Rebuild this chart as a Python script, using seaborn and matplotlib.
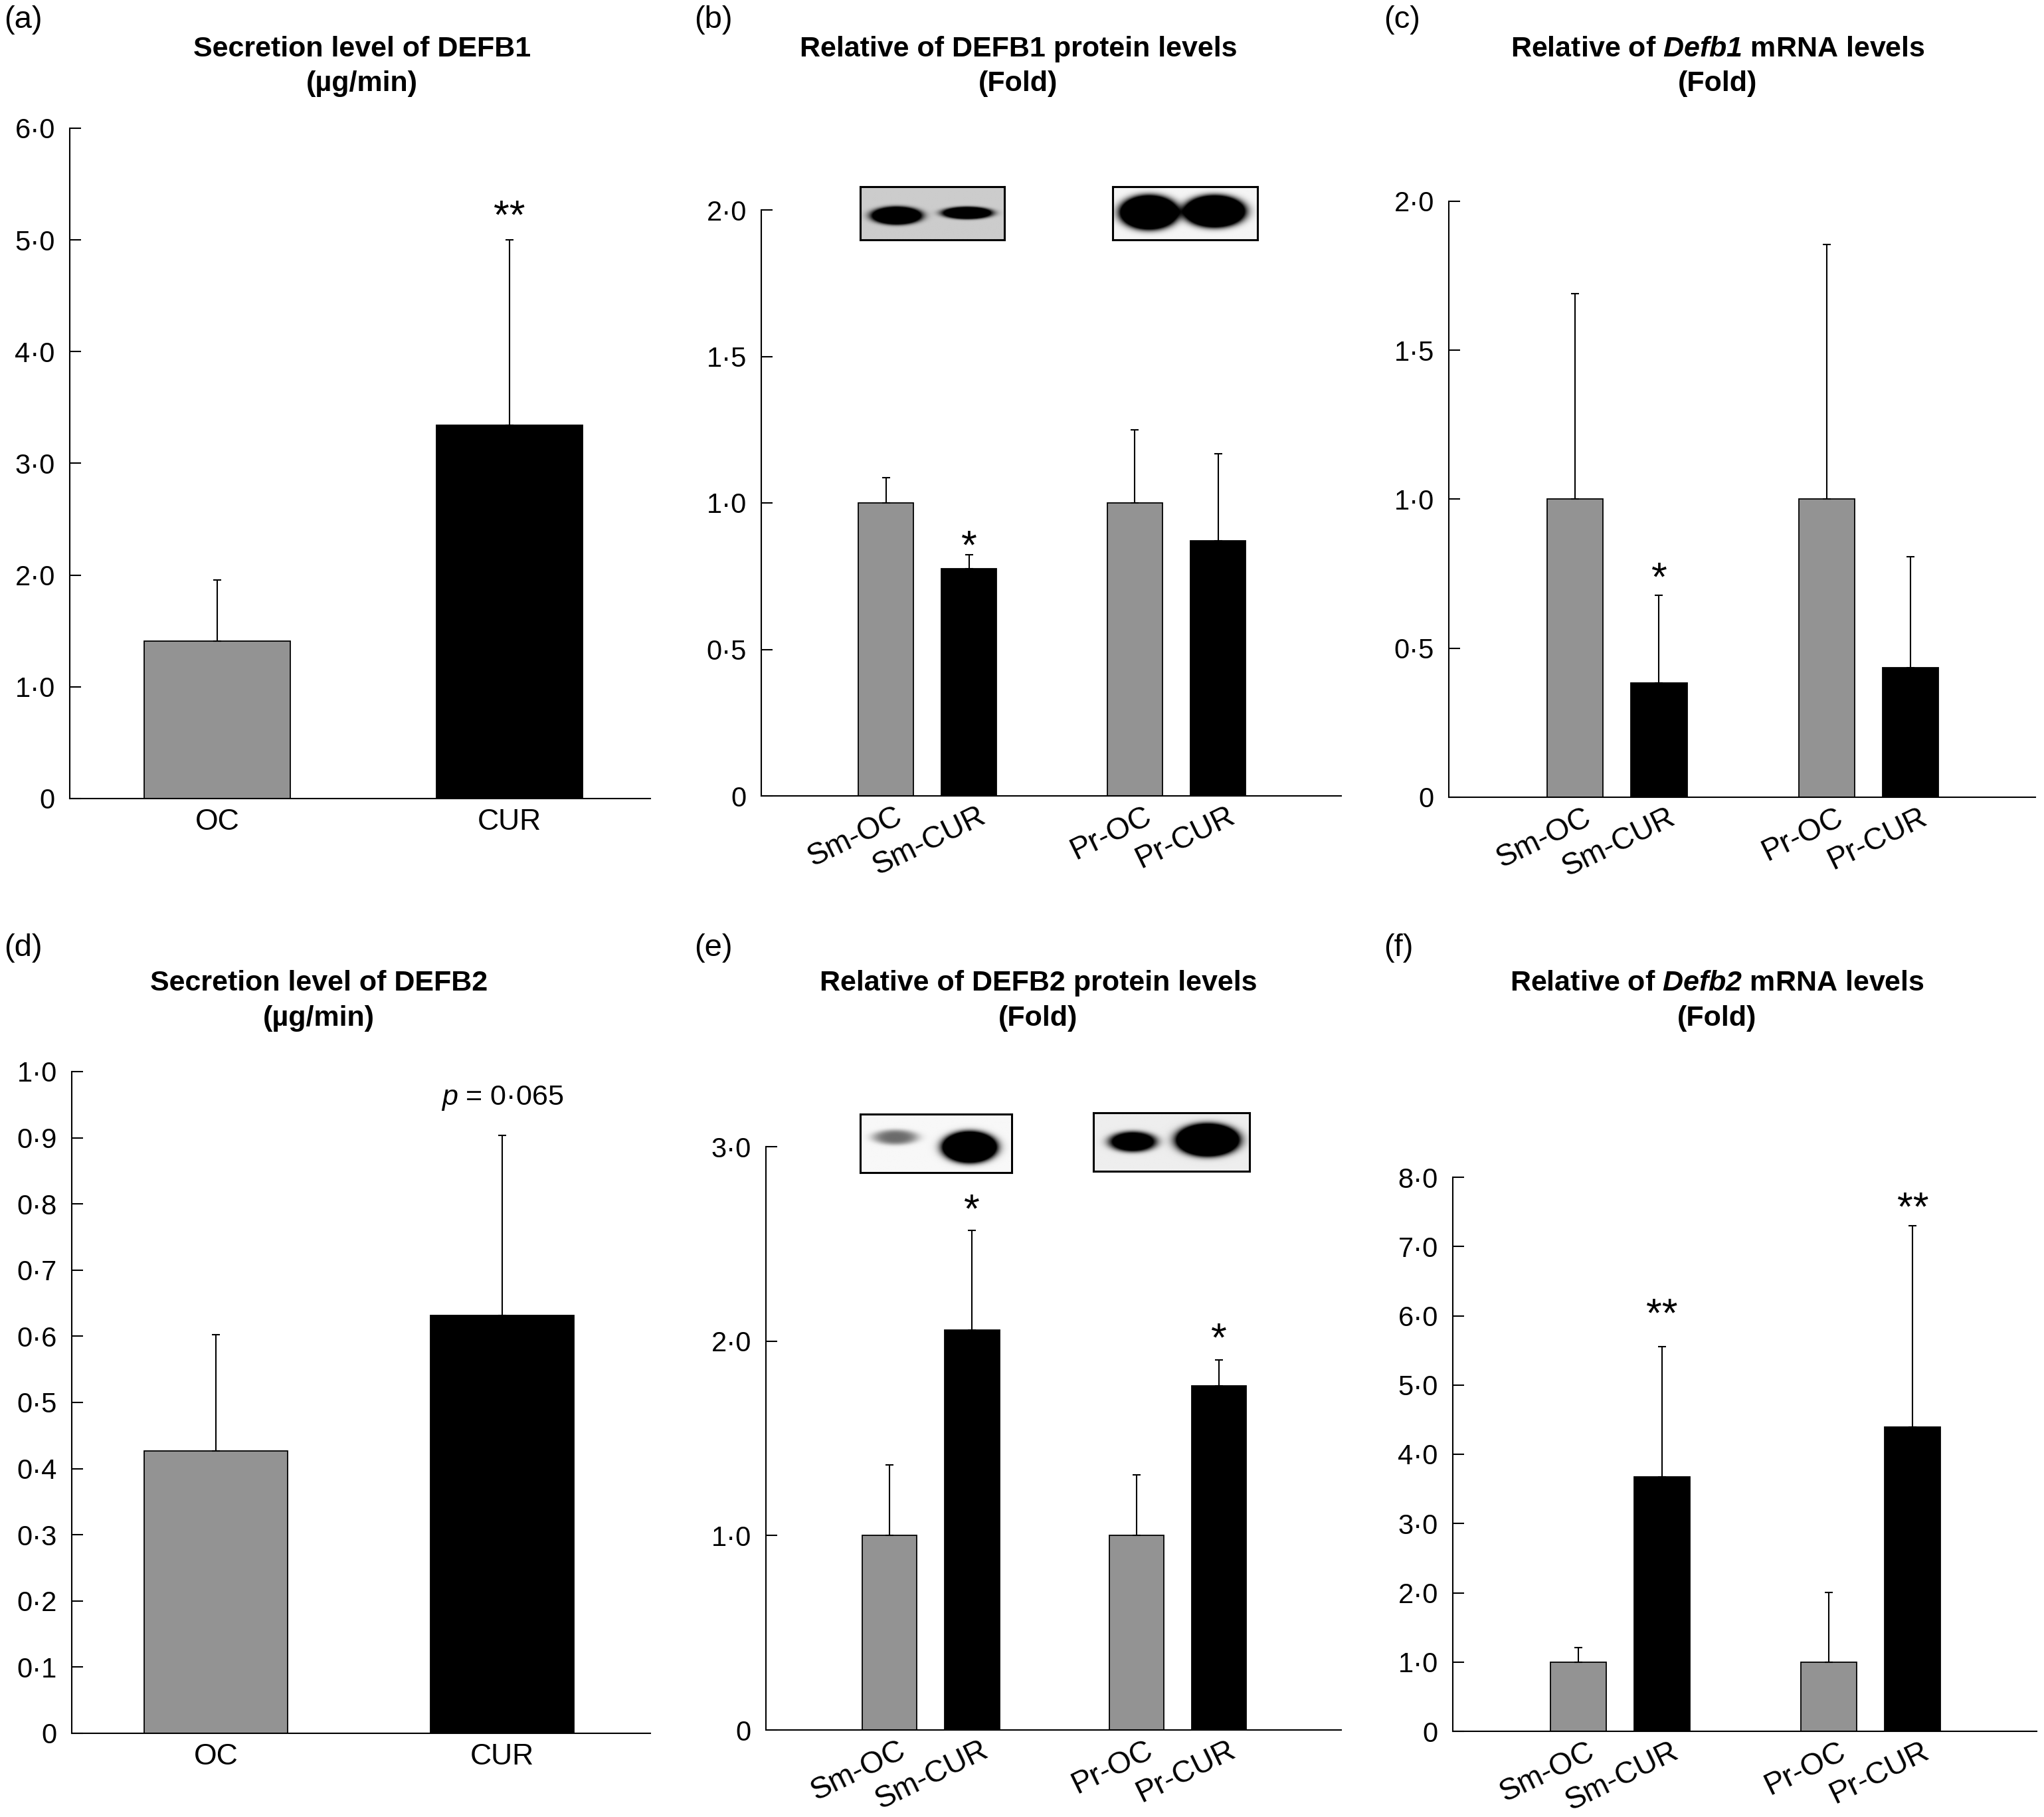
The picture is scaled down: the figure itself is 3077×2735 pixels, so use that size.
import numpy as np
import pandas as pd
import seaborn as sns
import matplotlib.pyplot as plt
from matplotlib.ticker import FuncFormatter, MultipleLocator
from matplotlib.transforms import ScaledTranslation

# ---- data (means and upward SD) ----
groups_2 = ["OC", "CUR"]
labels_4 = ["Sm-OC", "Sm-CUR", "Pr-OC", "Pr-CUR"]
tissue_4 = ["Sm", "Sm", "Pr", "Pr"]
treatment_4 = ["OC", "CUR", "OC", "CUR"]

defb1_secretion_mean = [1.41, 3.34]
defb1_secretion_sd = [0.545, 1.66]
defb1_secretion_sig = ["", "**"]

defb1_protein_mean = [1.0, 0.775, 1.0, 0.871]
defb1_protein_sd = [0.086, 0.049, 0.25, 0.297]
defb1_protein_sig = ["", "*", "", ""]

defb1_mrna_mean = [1.0, 0.384, 1.0, 0.434]
defb1_mrna_sd = [0.691, 0.294, 0.854, 0.374]
defb1_mrna_sig = ["", "*", "", ""]

defb2_secretion_mean = [0.427, 0.632]
defb2_secretion_sd = [0.175, 0.272]
defb2_secretion_sig = ["", "$p$ = 0·065"]

defb2_protein_mean = [1.0, 2.057, 1.0, 1.770]
defb2_protein_sd = [0.363, 0.514, 0.311, 0.133]
defb2_protein_sig = ["", "*", "", "*"]

defb2_mrna_mean = [1.0, 3.676, 1.0, 4.392]
defb2_mrna_sd = [0.21, 1.874, 1.004, 2.908]
defb2_mrna_sig = ["", "**", "", "**"]

# ---- styling ----
W, H, DPI = 3077, 2735, 100
GRAY = "#939393"
PALETTE = {"OC": GRAY, "CUR": "black"}
TICK_FS = 30
XLAB_FS = 32
TITLE_FS = 31
STAR_FS = 44

sns.set_style("ticks", {"axes.edgecolor": "black", "xtick.color": "black",
                        "ytick.color": "black", "text.color": "black"})
plt.rcParams["font.family"] = ["Liberation Sans", "DejaVu Sans"]
plt.rcParams["mathtext.fontset"] = "custom"
plt.rcParams["mathtext.rm"] = "Liberation Sans"
plt.rcParams["mathtext.it"] = "Liberation Sans:italic"
plt.rcParams["mathtext.bf"] = "Liberation Sans:bold:italic"

fig = plt.figure(figsize=(W / DPI, H / DPI), dpi=DPI)


def px_axes(left, bottom, right, top):
    return fig.add_axes([left / W, 1 - bottom / H, (right - left) / W, (bottom - top) / H])


def dot_fmt(v, _):
    if abs(v) < 1e-9:
        return "0"
    return f"{v:.1f}".replace(".", "\u00b7")


def add_blot(ax, pair_x, x0, x1, y0, y1, bg, bands):
    iax = ax.inset_axes([pair_x + x0, y0, x1 - x0, y1 - y0], transform=ax.transData)
    yy, xx = np.mgrid[0:1:80j, 0:1:200j]
    img = np.full(xx.shape, bg)
    for cx, cy, rx, ry, k in bands:
        r = ((xx - cx) / rx) ** 2 + ((yy - cy) / ry) ** 2
        img -= k * np.exp(-r ** 2)
    iax.imshow(np.clip(img, 0, 1), cmap="gray", vmin=0, vmax=1,
               aspect="auto", interpolation="bilinear")
    iax.set_xticks([])
    iax.set_yticks([])
    for s in iax.spines.values():
        s.set_visible(True)
        s.set_linewidth(2.2)
        s.set_color("black")


def draw_panel(rect, means, sds, sig, lifts, ymax, ystep, xlim, four):
    ax = px_axes(*rect)
    if four:
        df = pd.DataFrame({"tissue": tissue_4, "treatment": treatment_4, "value": means})
        sns.barplot(data=df, x="tissue", y="value", hue="treatment",
                    hue_order=groups_2, palette=PALETTE, width=0.668, gap=0.335,
                    dodge=True, saturation=1, edgecolor="black", linewidth=1.3,
                    errorbar=None, legend=False, ax=ax)
    else:
        df = pd.DataFrame({"group": groups_2, "value": means})
        sns.barplot(data=df, x="group", y="value", hue="group", palette=PALETTE,
                    width=0.5, saturation=1, edgecolor="black", linewidth=1.3,
                    errorbar=None, legend=False, ax=ax)

    bars = sorted(ax.patches, key=lambda p: p.get_x())
    xs = [p.get_x() + p.get_width() / 2 for p in bars]
    ax.errorbar(xs, means, yerr=[np.zeros(len(means)), sds], fmt="none",
                ecolor="black", elinewidth=1.5, capsize=4, capthick=1.5, zorder=3)

    for x, m, s, txt, lift in zip(xs, means, sds, sig, lifts):
        if not txt:
            continue
        if "*" in txt:
            fs, k = STAR_FS, 0.58
        else:
            fs, k = TICK_FS + 1, 0.36
        ax.annotate(txt, (x, m + s), xytext=(0, lift - k * fs),
                    textcoords="offset points", ha="center", va="baseline",
                    fontsize=fs, annotation_clip=False)

    ax.set_ylim(0, ymax)
    ax.set_xlim(*xlim)
    ax.yaxis.set_major_locator(MultipleLocator(ystep))
    ax.yaxis.set_major_formatter(FuncFormatter(dot_fmt))
    sns.despine(ax=ax)
    for s in ("left", "bottom"):
        ax.spines[s].set_linewidth(1.5)
    ax.tick_params(axis="y", direction="in", length=12, width=1.5,
                   labelsize=TICK_FS, pad=16)
    ax.tick_params(axis="x", length=0, labelsize=XLAB_FS, pad=11)
    ax.set_xlabel("")
    ax.set_ylabel("")

    if four:
        ax.set_xticks(xs)
        ax.set_xticklabels(labels_4, rotation=26, ha="right", rotation_mode="anchor",
                           fontsize=XLAB_FS + 1)
        ax.tick_params(axis="x", pad=6)
        shift = ScaledTranslation(9 / 72, 0, fig.dpi_scale_trans)
        for lbl in ax.get_xticklabels():
            lbl.set_transform(lbl.get_transform() + shift)
    return ax


XL4 = (-0.668, 1.662)

ax_a = draw_panel((105, 1202, 979, 193), defb1_secretion_mean, defb1_secretion_sd,
                  defb1_secretion_sig, [0, 38], 6.0, 1.0, (-0.505, 1.482), False)
ax_b = draw_panel((1146, 1198, 2019, 316), defb1_protein_mean, defb1_protein_sd,
                  defb1_protein_sig, [0, 21.5, 0, 0], 2.0, 0.5, XL4, True)
ax_c = draw_panel((2181, 1200, 3064, 303), defb1_mrna_mean, defb1_mrna_sd,
                  defb1_mrna_sig, [0, 31, 0, 0], 2.0, 0.5, XL4, True)
ax_d = draw_panel((108, 2609, 979, 1613), defb2_secretion_mean, defb2_secretion_sd,
                  defb2_secretion_sig, [0, 44], 1.0, 0.1, (-0.503, 1.517), False)
ax_e = draw_panel((1153, 2604, 2019, 1726), defb2_protein_mean, defb2_protein_sd,
                  defb2_protein_sig, [0, 34.5, 0, 35], 3.0, 1.0, XL4, True)
ax_f = draw_panel((2187, 2606, 3066, 1772), defb2_mrna_mean, defb2_mrna_sd,
                  defb2_mrna_sig, [0, 47.5, 0, 31.5], 8.0, 1.0, XL4, True)

# western blot insets (illustrative)
add_blot(ax_b, 0, -0.271, 0.309, 1.898, 2.08, 0.80,
         [(0.25, 0.55, 0.17, 0.16, 2.0), (0.74, 0.50, 0.17, 0.11, 1.8)])
add_blot(ax_b, 1, -0.255, 0.325, 1.898, 2.08, 0.96,
         [(0.25, 0.49, 0.19, 0.30, 3.0), (0.705, 0.47, 0.20, 0.28, 3.0)])
add_blot(ax_e, 0, -0.287, 0.327, 2.866, 3.167, 0.97,
         [(0.23, 0.40, 0.15, 0.13, 0.55), (0.72, 0.57, 0.17, 0.25, 3.0)])
add_blot(ax_e, 1, -0.342, 0.291, 2.872, 3.173, 0.93,
         [(0.25, 0.50, 0.15, 0.17, 1.6), (0.73, 0.47, 0.19, 0.26, 3.0)])

# titles
titles = [
    (545, 85, 137, "Secretion level of DEFB1", "(\u00b5g/min)"),
    (1533, 85, 137, "Relative of DEFB1 protein levels", "(Fold)"),
    (2586, 85, 137, r"Relative of $\mathbf{Defb1}$ mRNA levels", "(Fold)"),
    (480, 1491, 1544, "Secretion level of DEFB2", "(\u00b5g/min)"),
    (1563, 1491, 1544, "Relative of DEFB2 protein levels", "(Fold)"),
    (2585, 1491, 1544, r"Relative of $\mathbf{Defb2}$ mRNA levels", "(Fold)"),
]
for x, y1, y2, line1, line2 in titles:
    fig.text(x / W, 1 - y1 / H, line1, ha="center", va="baseline",
             fontsize=TITLE_FS, fontweight="bold")
    fig.text(x / W, 1 - y2 / H, line2, ha="center", va="baseline",
             fontsize=TITLE_FS, fontweight="bold")

for lab, x, y in [("(a)", 6, 8), ("(b)", 1045, 8), ("(c)", 2083, 8),
                  ("(d)", 6, 1405), ("(e)", 1045, 1405), ("(f)", 2083, 1405)]:
    fig.text(x / W, 1 - y / H, lab, ha="left", va="top", fontsize=34)

fig.savefig("out.png", dpi=DPI, facecolor="white")
plt.close(fig)
